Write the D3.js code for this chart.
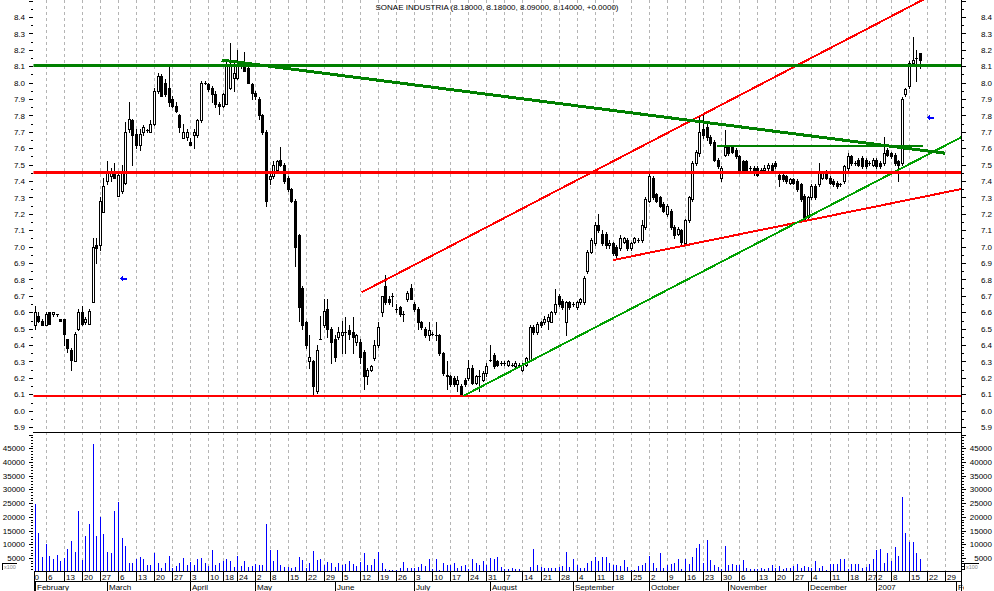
<!DOCTYPE html>
<html><head><meta charset="utf-8">
<script src="https://cdn.jsdelivr.net/npm/d3@7"></script>
<style>
html,body{margin:0;padding:0;background:#fff;overflow:hidden;}
svg{display:block;font-family:"Liberation Sans",Arial,sans-serif;}
</style></head><body>
<svg id="c" width="994" height="591"></svg>
<script>
// ---------------- DATA ----------------
const title = "SONAE INDUSTRIA (8.18000, 8.18000, 8.09000, 8.14000, +0.0000)";
const calendarStart = "2006-01-30", calendarEnd = "2007-02-02", firstDataDay = "2006-02-01";
const holidays = ["2006-04-14","2006-04-17","2006-05-01","2006-12-25","2006-12-26","2007-01-01"];
const monthNames = ["January","February","March","April","May","June","July","August","September","October","November","December"];
const priceTicks = [5.9,6.0,6.1,6.2,6.3,6.4,6.5,6.6,6.7,6.8,6.9,7.0,7.1,7.2,7.3,7.4,7.5,7.6,7.7,7.8,7.9,8.0,8.1,8.2,8.3,8.4];
const volumeTicks = [5000,10000,15000,20000,25000,30000,35000,40000,45000];

const open = [
6.52,6.58,6.55,6.52,6.60,6.59,6.59,6.56,6.56,6.44, 6.37,6.30,6.50,6.60,6.54,6.53,6.66,7.01,7.01,7.21,
7.40,7.43,7.45,7.31,7.34,7.39,7.72,7.77,7.69,7.62, 7.70,7.71,7.70,7.75,7.95,8.04,8.00,7.97,7.90,7.86,
7.80,7.66,7.67,7.64,7.68,7.68,7.77,8.00,7.99,7.97, 7.93,7.87,7.86,7.87,7.97,8.03,8.03,8.10,8.11,8.09,
7.99,7.94,7.90,7.80,7.70,7.41,7.43,7.47,7.53,7.50, 7.42,7.35,7.28,7.07,6.75,6.54,6.30,6.30,6.12,6.44,
6.52,6.62,6.50,6.44,6.45,6.46,6.48,6.49,6.48,6.42, 6.42,6.36,6.21,6.25,6.32,6.40,6.60,6.76,6.68,6.70,
6.62,6.63,6.59,6.68,6.75,6.65,6.62,6.54,6.50,6.46, 6.47,6.46,6.46,6.35,6.22,6.21,6.20,6.16,6.15,6.19,
6.20,6.26,6.17,6.21,6.19,6.23,6.31,6.34,6.30,6.29, 6.29,6.28,6.28,6.27,6.28,6.25,6.28,6.31,6.51,6.48,
6.54,6.54,6.55,6.54,6.60,6.70,6.67,6.54,6.66,6.65, 6.63,6.66,6.66,6.85,6.97,7.02,7.13,7.08,7.08,7.01,
7.02,7.00,6.99,7.03,7.04,6.99,7.03,7.04,7.04,7.12, 7.28,7.42,7.32,7.30,7.26,7.20,7.22,7.12,7.08,7.10,
7.02,7.16,7.29,7.51,7.57,7.72,7.73,7.67,7.64,7.53, 7.42,7.56,7.61,7.61,7.59,7.55,7.52,7.52,7.48,7.48,
7.48,7.47,7.47,7.48,7.50,7.51,7.44,7.44,7.43,7.39, 7.41,7.40,7.38,7.31,7.18,7.30,7.37,7.38,7.42,7.46,
7.42,7.40,7.39,7.38,7.40,7.48,7.55,7.51,7.53,7.54, 7.53,7.51,7.50,7.53,7.51,7.51,7.59,7.57,7.56,7.52,
7.51,7.93,7.98,8.12,8.15,8.18];
const high = [
6.64,6.60,6.56,6.60,6.60,6.60,6.59,6.56,6.56,6.44, 6.38,6.48,6.62,6.64,6.57,6.62,7.05,7.05,7.30,7.42,
7.52,7.48,7.51,7.46,7.50,7.76,7.88,7.78,7.72,7.72, 7.74,7.72,7.77,7.97,8.06,8.05,8.02,8.10,7.92,7.88,
7.81,7.75,7.72,7.66,7.72,7.78,8.01,8.01,8.00,7.98, 7.95,7.88,7.94,8.14,8.24,8.12,8.20,8.13,8.19,8.10,
8.00,7.95,7.91,7.81,7.71,7.45,7.52,7.53,7.61,7.51, 7.43,7.36,7.29,7.08,6.76,6.55,6.46,6.31,6.40,6.58,
6.68,6.68,6.51,6.46,6.51,6.55,6.57,6.52,6.57,6.47, 6.44,6.37,6.26,6.28,6.43,6.54,6.70,6.83,6.70,6.72,
6.65,6.64,6.61,6.73,6.77,6.66,6.63,6.55,6.51,6.54, 6.48,6.54,6.47,6.36,6.30,6.22,6.21,6.21,6.16,6.20,
6.31,6.28,6.22,6.25,6.24,6.29,6.40,6.35,6.31,6.30, 6.30,6.31,6.29,6.30,6.29,6.29,6.33,6.52,6.52,6.54,
6.55,6.58,6.59,6.61,6.74,6.71,6.68,6.67,6.67,6.66, 6.67,6.69,6.82,6.98,7.05,7.15,7.20,7.10,7.09,7.04,
7.03,7.01,7.07,7.06,7.05,7.03,7.06,7.05,7.16,7.30, 7.46,7.43,7.33,7.31,7.27,7.26,7.23,7.13,7.12,7.11,
7.17,7.31,7.52,7.59,7.79,7.80,7.75,7.68,7.65,7.54, 7.49,7.71,7.62,7.62,7.60,7.56,7.53,7.53,7.49,7.49,
7.49,7.48,7.50,7.51,7.51,7.52,7.45,7.45,7.44,7.42, 7.42,7.41,7.39,7.32,7.31,7.38,7.38,7.51,7.46,7.47,
7.43,7.41,7.40,7.39,7.50,7.57,7.56,7.52,7.54,7.55, 7.54,7.52,7.54,7.54,7.52,7.67,7.60,7.58,7.57,7.53,
7.91,7.97,8.13,8.28,8.20,8.18];
const low = [
6.50,6.54,6.52,6.52,6.53,6.58,6.58,6.55,6.40,6.36, 6.25,6.30,6.49,6.52,6.53,6.53,6.66,6.90,6.98,7.21,
7.38,7.40,7.42,7.31,7.33,7.38,7.70,7.50,7.60,7.59, 7.68,7.70,7.70,7.74,7.94,7.92,7.92,7.86,7.85,7.82,
7.70,7.66,7.65,7.62,7.60,7.67,7.76,7.99,7.95,7.88, 7.85,7.81,7.85,7.87,7.96,7.95,8.02,8.09,8.07,8.00,
7.90,7.90,7.78,7.69,7.25,7.38,7.42,7.46,7.49,7.39, 7.34,7.27,6.88,6.55,6.50,6.38,6.26,6.10,6.11,6.44,
6.51,6.45,6.29,6.30,6.44,6.35,6.35,6.44,6.35,6.40, 6.29,6.13,6.16,6.24,6.31,6.39,6.58,6.65,6.65,6.64,
6.60,6.58,6.55,6.67,6.68,6.61,6.50,6.50,6.45,6.43, 6.46,6.43,6.34,6.22,6.13,6.15,6.15,6.12,6.09,6.15,
6.19,6.16,6.16,6.12,6.18,6.21,6.30,6.26,6.27,6.28, 6.28,6.27,6.27,6.26,6.27,6.24,6.27,6.30,6.47,6.47,
6.51,6.53,6.50,6.54,6.59,6.64,6.62,6.46,6.62,6.64, 6.62,6.65,6.65,6.84,6.96,7.01,7.09,7.01,6.99,6.99,
6.95,6.94,6.98,7.02,6.98,6.98,7.02,7.03,7.03,7.11, 7.27,7.29,7.27,7.24,7.21,7.19,7.11,7.05,7.07,7.01,
7.01,7.15,7.28,7.50,7.55,7.66,7.65,7.62,7.52,7.48, 7.40,7.55,7.56,7.57,7.54,7.46,7.46,7.46,7.47,7.44,
7.43,7.46,7.46,7.47,7.46,7.48,7.37,7.40,7.39,7.38, 7.38,7.34,7.28,7.16,7.17,7.29,7.29,7.37,7.41,7.41,
7.38,7.37,7.36,7.37,7.39,7.47,7.50,7.50,7.49,7.48, 7.48,7.50,7.49,7.48,7.48,7.50,7.55,7.54,7.50,7.40,
7.50,7.92,7.97,8.10,8.01,8.09];
const close = [
6.60,6.55,6.52,6.59,6.53,6.60,6.59,6.55,6.47,6.38, 6.31,6.47,6.60,6.53,6.56,6.61,7.00,6.99,7.28,7.37,
7.45,7.46,7.42,7.44,7.46,7.70,7.78,7.68,7.62,7.69, 7.73,7.71,7.75,7.95,8.04,7.92,7.93,7.88,7.86,7.83,
7.73,7.70,7.70,7.62,7.70,7.77,8.00,8.00,7.96,7.93, 7.87,7.86,7.93,8.11,8.10,8.06,8.11,8.12,8.07,8.00,
7.94,7.92,7.80,7.70,7.28,7.43,7.50,7.52,7.50,7.40, 7.35,7.28,7.00,6.63,6.52,6.40,6.33,6.15,6.37,6.44,
6.61,6.50,6.42,6.33,6.48,6.48,6.48,6.47,6.45,6.46, 6.33,6.21,6.25,6.27,6.40,6.51,6.70,6.66,6.66,6.70,
6.62,6.59,6.59,6.72,6.68,6.62,6.54,6.51,6.46,6.49, 6.47,6.46,6.35,6.23,6.21,6.16,6.16,6.19,6.10,6.16,
6.26,6.17,6.21,6.21,6.23,6.27,6.31,6.27,6.28,6.29, 6.29,6.30,6.28,6.29,6.28,6.28,6.32,6.51,6.48,6.53,
6.52,6.56,6.57,6.60,6.65,6.65,6.63,6.66,6.63,6.65, 6.66,6.68,6.81,6.97,7.04,7.13,7.10,7.02,7.01,7.02,
6.96,6.95,7.05,7.05,6.99,7.02,7.05,7.04,7.13,7.29, 7.43,7.30,7.28,7.25,7.22,7.25,7.12,7.07,7.11,7.03,
7.16,7.30,7.51,7.58,7.70,7.68,7.67,7.63,7.53,7.49, 7.48,7.61,7.57,7.58,7.55,7.47,7.47,7.47,7.48,7.45,
7.44,7.47,7.48,7.50,7.47,7.49,7.41,7.41,7.40,7.41, 7.39,7.35,7.29,7.17,7.30,7.37,7.30,7.45,7.45,7.42,
7.39,7.38,7.37,7.38,7.49,7.55,7.51,7.51,7.50,7.49, 7.49,7.51,7.53,7.49,7.49,7.57,7.56,7.55,7.51,7.50,
7.90,7.96,8.12,8.14,8.15,8.14];
const volume = [
24600,14000,5400,10000,5700,4500,6000,3800,5000,8200, 11100,7300,22000,4100,12900,17300,46500,12900,19800,13600,
7300,6700,22000,25300,12200,9300,3300,3100,4500,5200, 4800,2600,2300,6700,3100,1500,3100,5600,1500,2100,
3100,5100,2300,3500,2400,4500,4900,3100,2100,7800, 2300,3300,3900,4800,3800,1700,5600,2000,3800,1600,
2100,2800,2400,2400,17300,7800,3800,7800,2400,1600, 1600,1200,1700,5200,4300,1500,3100,7400,4100,4500,
2600,3700,3100,1600,3100,2300,2800,4000,2700,2000, 3700,7000,2400,2400,4500,7300,3100,1100,700,700,
700,1500,3400,1500,1200,1200,1600,2700,2000,4500, 1000,4500,800,3300,2300,2300,3100,1500,2100,2600,
1000,4800,3100,2300,3900,2400,5100,4500,5500,1600, 900,1100,1500,1100,900,300,300,1700,8200,2400,
1700,1500,1200,1200,1200,1700,2100,7200,1700,4500, 2400,1200,1200,3100,3900,5500,3900,5500,5500,3100,
2400,2400,2100,4100,1600,600,600,2100,2400,3300, 5600,3300,1500,6700,1500,2400,2800,3300,4800,1100,
4800,2800,5200,8600,10000,3100,11400,4100,2400,1600, 1100,9300,2400,2800,2400,2400,4100,1500,1100,1100,
1100,1500,1100,1500,2600,1500,2000,900,1200,1200, 2000,2800,1500,2100,1700,1200,3800,1500,2000,700,
2800,2800,2800,4500,4500,1100,2800,2800,2800,1200, 1600,2800,4500,7800,8200,3100,6700,3800,8900,5600,
27200,14200,10700,10700,6700,4800];

// trend lines: [calendar day index, price] pairs
const resistanceTop = [[-2, 8.107],[260, 8.107]];
const supportMid = [[-2, 7.455],[260, 7.455]];
const supportLow = [[-2, 6.091],[260, 6.091]];
const fallingLine = [[53.7, 8.138],[254.0, 7.570]];
const flatLine = [[190.8, 7.616],[248.0, 7.616]];
const risingSupport = [[120.6, 6.090],[258.6, 7.669]];
const channelTop = [[92.5, 6.722],[248.5, 8.513]];
const risingLower = [[162.0, 6.918],[258.6, 7.352]];
const arrowMarks = [[26.4, 6.811],[249.8, 7.789]];

// ---------------- CALENDAR ----------------
const parse = d3.utcParse("%Y-%m-%d"), fmt = d3.utcFormat("%Y-%m-%d");
const days = d3.utcDay.range(parse(calendarStart), d3.utcDay.offset(parse(calendarEnd), 1))
  .filter(d => d.getUTCDay() > 0 && d.getUTCDay() < 6 && !holidays.includes(fmt(d)));
const dataStart = days.findIndex(d => fmt(d) === firstDataDay);
const weekTicks = days.map((d,i)=>({d,i})).filter(o => o.i === 0 || +d3.utcMonday.floor(o.d) !== +d3.utcMonday.floor(days[o.i-1]));
const monthTicks = days.map((d,i)=>({d,i})).filter(o => o.i > 0 && o.d.getUTCMonth() !== days[o.i-1].getUTCMonth());

// ---------------- SCALES ----------------
const L = 33.5, R = 961.7, PB = 432.3, VB = 571.7, RB = 581.3;
const x = d3.scaleLinear().domain([0, 258.6]).range([27.64, R]);
const yP = d3.scaleLinear().domain([6.1, 8.1]).range([394.3, 66.3]);
const yV = d3.scaleLinear().domain([0, 45000]).range([VB, 448.3]);
const px = i => Math.round(x(i));

const svg = d3.select("#c");
const defs = svg.append("defs");
defs.append("clipPath").attr("id","cp").append("rect").attr("x",L).attr("y",0).attr("width",R-L).attr("height",PB);
defs.append("clipPath").attr("id","cv").append("rect").attr("x",L).attr("y",PB).attr("width",R-L).attr("height",VB-PB);
defs.append("clipPath").attr("id","cd").append("rect").attr("x",34).attr("y",VB).attr("width",961.5-34).attr("height",RB-VB);
defs.append("clipPath").attr("id","cm").append("rect").attr("x",34).attr("y",RB).attr("width",964-34).attr("height",591-RB);

// grid
svg.append("g").selectAll("line").data(weekTicks).join("line")
  .attr("x1",o=>px(o.i)+0.5).attr("x2",o=>px(o.i)+0.5).attr("y1",0).attr("y2",VB)
  .attr("stroke","#b4b4b4").attr("stroke-dasharray","3,3").attr("shape-rendering","crispEdges")
  .style("display",o=>x(o.i)<L?"none":null);

// candles
const gc = svg.append("g").attr("clip-path","url(#cp)").attr("shape-rendering","crispEdges");
open.forEach((o,k) => {
  const i = dataStart + k, cx = px(i);
  const h = high[k], l = low[k], c = close[k];
  gc.append("line").attr("x1",cx+0.5).attr("x2",cx+0.5)
    .attr("y1",Math.round(yP(h))).attr("y2",Math.round(yP(l))+1).attr("stroke","#000");
  const top = Math.round(yP(Math.max(o,c))), bot = Math.round(yP(Math.min(o,c)));
  if (bot - top < 1) {
    gc.append("line").attr("x1",cx-1).attr("x2",cx+2).attr("y1",top+0.5).attr("y2",top+0.5).attr("stroke","#000");
  } else {
    gc.append("rect").attr("x",cx-0.5).attr("y",top+0.5).attr("width",2).attr("height",bot-top)
      .attr("fill", c >= o ? "#fff" : "#000").attr("stroke","#000");
  }
});

// volume
svg.append("g").attr("clip-path","url(#cv)").attr("shape-rendering","crispEdges")
  .selectAll("line").data(volume).join("line")
  .attr("x1",(v,k)=>px(dataStart+k)+0.5).attr("x2",(v,k)=>px(dataStart+k)+0.5)
  .attr("y1",yV(0)).attr("y2",v=>yV(v)).attr("stroke","#0000ff");

// trend lines
const gl = svg.append("g").attr("clip-path","url(#cp)").attr("shape-rendering","crispEdges");
function tl(pts, color, w){
  gl.append("line").attr("x1",x(pts[0][0])).attr("y1",yP(pts[0][1]))
    .attr("x2",x(pts[1][0])).attr("y2",yP(pts[1][1])).attr("stroke",color).attr("stroke-width",w);
}
tl(supportLow,"#ff0000",2);
tl(channelTop,"#ff0000",2);
tl(risingLower,"#ff0000",2);
tl(risingSupport,"#00a000",2);
tl(flatLine,"#008000",2);
tl(fallingLine,"#008000",3);
tl(supportMid,"#ff0000",3);
tl(resistanceTop,"#008000",3);

// arrows
arrowMarks.forEach(([i,p]) => {
  const ax = Math.round(x(i)), ay = Math.round(yP(p));
  gl.append("path").attr("d",`M${ax-3},${ay+0.5}L${ax},${ay-2}L${ax},${ay+3}Z`).attr("fill","#0000ff");
  gl.append("rect").attr("x",ax).attr("y",ay-0.5).attr("width",4).attr("height",2).attr("fill","#0000ff");
});

// frames
const gf = svg.append("g").attr("shape-rendering","crispEdges").attr("stroke","#000");
gf.append("line").attr("x1",L-1).attr("x2",R).attr("y1",PB).attr("y2",PB);
gf.append("line").attr("x1",34).attr("x2",R).attr("y1",VB).attr("y2",VB);
gf.append("line").attr("x1",34).attr("x2",R).attr("y1",RB).attr("y2",RB);
gf.append("line").attr("x1",R).attr("x2",R).attr("y1",0).attr("y2",591);
gf.append("line").attr("x1",34.5).attr("x2",34.5).attr("y1",VB).attr("y2",591);

// price axes
const ga = svg.append("g").attr("shape-rendering","crispEdges");
const pMajor = d3.range(59, 86).map(v => v/10);
const pMinor = d3.range(59, 85).map(v => v/10 + 0.05);
pMajor.forEach(v => {
  const y = Math.round(yP(v)) + 0.5;
  ga.append("line").attr("x1",29).attr("x2",33).attr("y1",y).attr("y2",y).attr("stroke","#000");
  ga.append("line").attr("x1",R).attr("x2",R+4).attr("y1",y).attr("y2",y).attr("stroke","#000");
});
pMinor.forEach(v => {
  const y = Math.round(yP(v)) + 0.5;
  ga.append("line").attr("x1",31).attr("x2",33).attr("y1",y).attr("y2",y).attr("stroke","#000");
  ga.append("line").attr("x1",R).attr("x2",R+2).attr("y1",y).attr("y2",y).attr("stroke","#000");
});
const gt = svg.append("g").attr("font-size","8px").attr("fill","#000");
priceTicks.forEach(v => {
  gt.append("text").attr("x",25).attr("y",yP(v)+3).attr("text-anchor","end").text(v.toFixed(1));
  gt.append("text").attr("x",992).attr("y",yP(v)+3).attr("text-anchor","end").text(v.toFixed(1));
});
// volume axes
d3.range(1000, 51000, 1000).forEach(v => {
  const y = Math.round(yV(v)) + 0.5, major = v % 5000 === 0;
  ga.append("line").attr("x1",major?29:31).attr("x2",33).attr("y1",y).attr("y2",y).attr("stroke","#000");
  ga.append("line").attr("x1",R).attr("x2",R+(major?4:2)).attr("y1",y).attr("y2",y).attr("stroke","#000");
});
volumeTicks.forEach(v => {
  gt.append("text").attr("x",25).attr("y",yV(v)+3).attr("text-anchor","end").text(v);
  gt.append("text").attr("x",992).attr("y",yV(v)+3).attr("text-anchor","end").text(v);
});
[[2,563.5],[964,563.5]].forEach(([bx,by]) => {
  ga.append("line").attr("x1",bx).attr("x2",bx+15).attr("y1",by).attr("y2",by).attr("stroke","#000");
  ga.append("line").attr("x1",bx+0.5).attr("x2",bx+0.5).attr("y1",by).attr("y2",by+6).attr("stroke","#000");
  svg.append("text").attr("x",bx+2).attr("y",by+5.5).attr("font-size","5.5px").attr("fill","#888").text("x100");
});

// date axis
const gd = svg.append("g").attr("clip-path","url(#cd)");
weekTicks.forEach(o => {
  const xx = px(o.i) + 0.5;
  gd.append("line").attr("x1",xx).attr("x2",xx).attr("y1",VB).attr("y2",RB).attr("stroke","#000").attr("shape-rendering","crispEdges");
  gd.append("text").attr("x",xx+1.5).attr("y",579.5).attr("font-size","8px").text(o.d.getUTCDate());
});
const gm = svg.append("g").attr("clip-path","url(#cm)");
monthTicks.forEach(o => {
  const xx = px(o.i) + 0.5;
  gm.append("line").attr("x1",xx).attr("x2",xx).attr("y1",RB).attr("y2",591).attr("stroke","#000").attr("shape-rendering","crispEdges");
  const m = o.d.getUTCMonth();
  gm.append("text").attr("x",xx+1.5).attr("y",589.5).attr("font-size","8px")
    .text(m === 0 ? String(o.d.getUTCFullYear()) : monthNames[m]);
});

// title
svg.append("text").attr("x",497).attr("y",10).attr("text-anchor","middle").attr("font-size","8px").text(title);
</script>
</body></html>
